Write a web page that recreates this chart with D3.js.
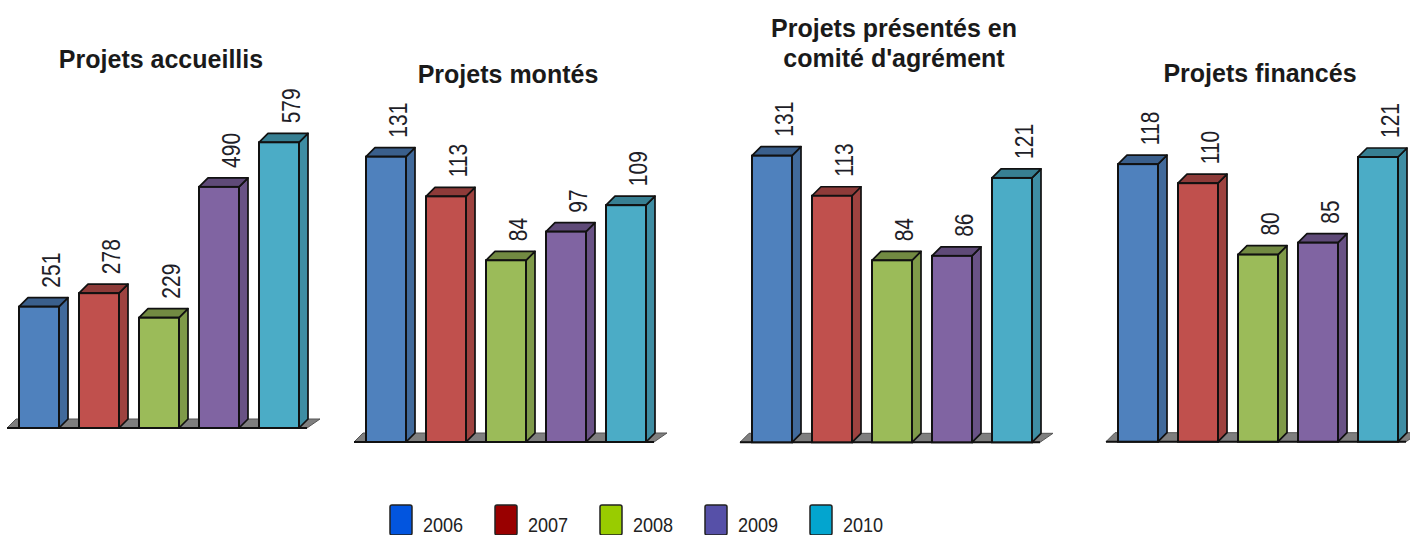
<!DOCTYPE html>
<html><head><meta charset="utf-8">
<script src="https://cdn.jsdelivr.net/npm/d3@7/dist/d3.min.js"></script>
<style>
html,body{margin:0;padding:0;background:#fff;}
svg{display:block;}
</style></head>
<body>
<svg id="chart" width="1410" height="535"></svg>
<script>
// ---- data ----
const years = ["2006", "2007", "2008", "2009", "2010"];
const chartTitles = [
  ["Projets accueillis"],
  ["Projets montés"],
  ["Projets présentés en", "comité d'agrément"],
  ["Projets financés"]
];
const accueillis = [251, 278, 229, 490, 579];
const montes = [131, 113, 84, 97, 109];
const comite = [131, 113, 84, 86, 121];
const finances = [118, 110, 80, 85, 121];
const seriesValues = [accueillis, montes, comite, finances];

// ---- styles / layout ----
const barColors = ["#4f81bd", "#c0504d", "#9bbb59", "#8064a2", "#4bacc6"];
const legendColors = ["#0255df", "#990000", "#99cc00", "#5650a8", "#03a5cf"];
const layout = [
  {bx: 19,   floorY: 428,   zeroY: 432.5, refV: 579, refY: 142.3, titleY: [68]},
  {bx: 366,  floorY: 442,   zeroY: 445.4, refV: 131, refY: 156.7, titleY: [83]},
  {bx: 752,  floorY: 442.3, zeroY: 447.3, refV: 131, refY: 155.7, titleY: [37, 67]},
  {bx: 1118, floorY: 441.7, zeroY: 445.0, refV: 121, refY: 157.0, titleY: [82]}
];
const barW = 40, gap = 20, dx = 9, dy = 9;
const sans = "'Liberation Sans',Arial,sans-serif";

const svg = d3.select("#chart");

seriesValues.forEach((vals, ci) => {
  const L = layout[ci];
  const span = years.length * barW + (years.length - 1) * gap;
  const x = d3.scaleBand().domain(years).range([L.bx, L.bx + span])
    .paddingInner(gap / (barW + gap)).paddingOuter(0);
  const y = d3.scaleLinear().domain([0, L.refV]).range([L.zeroY, L.refY]);
  const g = svg.append("g");

  // floor
  const fy = L.floorY;
  g.append("path")
    .attr("d", `M${L.bx - 12},${fy} L${L.bx + 288},${fy} L${L.bx + 301},${fy - 9} L${L.bx - 3},${fy - 9} Z`)
    .attr("fill", "#7f7f7f").attr("stroke", "#555").attr("stroke-width", 1);
  g.append("line").attr("x1", L.bx - 12).attr("x2", L.bx + 288).attr("y1", fy).attr("y2", fy)
    .attr("stroke", "#111").attr("stroke-width", 2);

  years.forEach((yr, i) => {
    const v = vals[i];
    const x0 = x(yr), w = x.bandwidth();
    const top = y(v);
    const c = d3.color(barColors[i]);
    const side = c.darker(0.55).formatHex();
    const topC = c.darker(0.85).formatHex();
    // side face
    g.append("path")
      .attr("d", `M${x0 + w},${fy} L${x0 + w + dx},${fy - dy} L${x0 + w + dx},${top - dy} L${x0 + w},${top} Z`)
      .attr("fill", side).attr("stroke", "#111").attr("stroke-width", 1.7).attr("stroke-linejoin", "round");
    // top face
    g.append("path")
      .attr("d", `M${x0},${top} L${x0 + dx},${top - dy} L${x0 + w + dx},${top - dy} L${x0 + w},${top} Z`)
      .attr("fill", topC).attr("stroke", "#111").attr("stroke-width", 1.7).attr("stroke-linejoin", "round");
    // front face
    g.append("rect")
      .attr("x", x0).attr("y", top).attr("width", w).attr("height", fy - top)
      .attr("fill", barColors[i]).attr("stroke", "#111").attr("stroke-width", 2);
    // value label (condensed)
    g.append("text")
      .attr("transform", `translate(${x0 + w + 0.5},${top - 19}) rotate(-90) scale(0.84,1)`)
      .attr("font-family", sans).attr("font-size", 25).attr("fill", "#1e1e28")
      .text(v);
  });

  // title
  const tg = g.append("text")
    .attr("text-anchor", "middle")
    .attr("font-family", sans)
    .attr("font-weight", "bold").attr("font-size", 25).attr("fill", "#1a1a1a");
  chartTitles[ci].forEach((t, k) => {
    tg.append("tspan").attr("x", L.bx + 142).attr("y", L.titleY[k]).text(t);
  });
});

// legend
const lx = d3.scalePoint().domain(years).range([390, 810]);
const lg = svg.append("g");
years.forEach((yr, i) => {
  lg.append("rect").attr("x", lx(yr)).attr("y", 505).attr("width", 22).attr("height", 30)
    .attr("rx", 2).attr("fill", legendColors[i]).attr("stroke", "#222").attr("stroke-width", 1.5);
  lg.append("text").attr("transform", `translate(${lx(yr) + 33},532) scale(0.86,1)`)
    .attr("font-family", sans).attr("font-size", 21).attr("fill", "#222").text(yr);
});
</script>
</body></html>
